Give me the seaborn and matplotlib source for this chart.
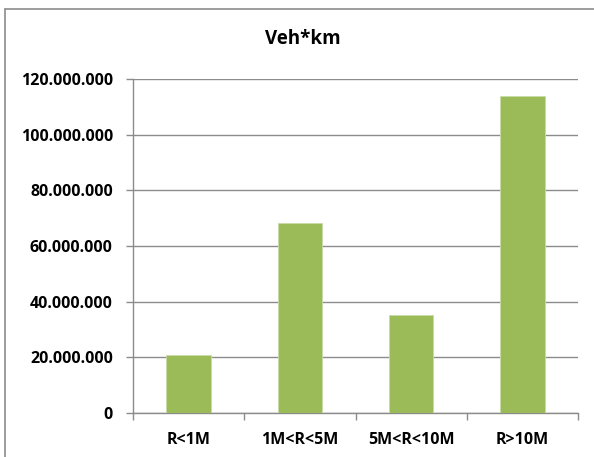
import matplotlib
matplotlib.use("Agg")
import matplotlib.pyplot as plt
import matplotlib.ticker as mticker
from matplotlib.lines import Line2D
import seaborn as sns
import pandas as pd

categories = ["R<1M", "1M<R<5M", "5M<R<10M", "R>10M"]
veh_km = [20_800_000, 68_300_000, 35_100_000, 114_000_000]
y_ticks = [0, 20_000_000, 40_000_000, 60_000_000, 80_000_000, 100_000_000, 120_000_000]
title = "Veh*km"

sns.set_theme(style="white")
plt.rcParams['font.family'] = ['Open Sans', 'DejaVu Sans']
plt.rcParams['font.weight'] = 'bold'

df = pd.DataFrame({"cat": categories, "val": veh_km})

fig = plt.figure(figsize=(5.94, 4.57), dpi=100)
ax = fig.add_axes([133/594, 1-413/457, (578-133)/594, (413-79)/457])

sns.barplot(data=df, x="cat", y="val", color="#9BBB59", width=0.4, ax=ax,
            saturation=1, edgecolor="#C9DBA6", linewidth=0.6, zorder=3)

ax.set_ylim(0, 120_000_000)
ax.set_xlim(-0.5, 3.5)
ax.set_yticks(y_ticks)
ax.yaxis.set_major_formatter(mticker.FuncFormatter(lambda v, p: f"{int(v):,}".replace(",", ".")))
ax.grid(axis="y", color="#8C8C8C", linewidth=1, zorder=0)
ax.set_axisbelow(True)
ax.set_xlabel("")
ax.set_ylabel("")

for s in ["top", "right"]:
    ax.spines[s].set_visible(False)
for s in ["left", "bottom"]:
    ax.spines[s].set_color("#8C8C8C")
    ax.spines[s].set_linewidth(1)

# x ticks at category boundaries, labels centered
ax.set_xticks([-0.5, 0.5, 1.5, 2.5, 3.5])
ax.set_xticklabels([])
ax.set_xticks(range(len(categories)), minor=True)
ax.set_xticklabels(categories, minor=True, fontweight="bold")
ax.tick_params(axis="x", which="major", direction="out", length=5, width=1, color="#8C8C8C", bottom=True)
ax.tick_params(axis="x", which="minor", length=0, pad=14, labelsize=11.5, labelcolor="black")
ax.tick_params(axis="y", direction="out", length=5, width=1, color="#8C8C8C", left=True,
               labelsize=11.5, pad=9.5, labelcolor="black")

fig.text(303/594, 1-39.5/457, title, ha="center", va="center", fontsize=13.5, fontweight="bold", color="black")

# chart frame (partially visible)
fig.add_artist(Line2D([5/594, 5/594], [0, 1-9/457], transform=fig.transFigure, color="#8C8C8C", linewidth=1.2))
fig.add_artist(Line2D([5/594, 1], [1-9/457, 1-9/457], transform=fig.transFigure, color="#8C8C8C", linewidth=1.2))

fig.savefig("out.png", dpi=100)
